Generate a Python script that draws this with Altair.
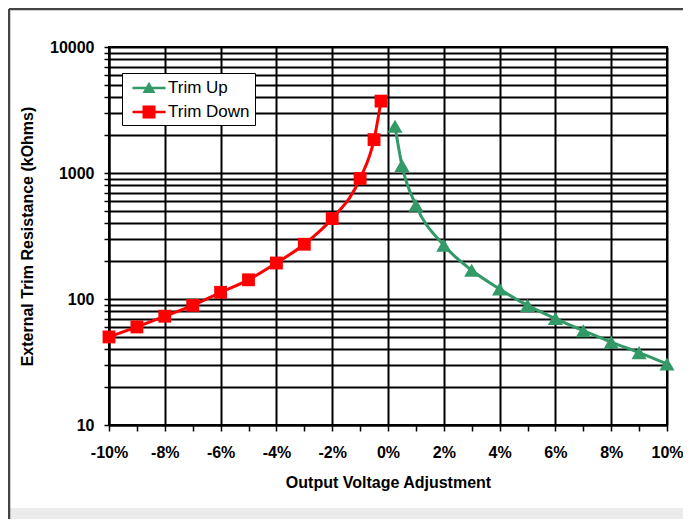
import altair as alt
import pandas as pd

# ---- data ----
series = ["Trim Up", "Trim Down"]
colors = ["#339966", "#ff0000"]

down_x = [-10, -9, -8, -7, -6, -5, -4, -3, -2, -1, -0.5, -0.25]
down_y = [50, 60, 73, 89, 113, 142, 193, 272, 435, 905, 1840, 3720]

up_x = [0.25, 0.5, 1, 2, 3, 4, 5, 6, 7, 8, 9, 10]
up_y = [2350, 1150, 555, 267, 169, 120, 89, 70, 56, 45.5, 37.5, 30.5]

x_ticks = list(range(-10, 11))
y_ticks = [m * 10 ** e for e in (1, 2, 3) for m in range(1, 10)] + [10000]

# legend symbols: line + marker
leg_paths = [
    "M-1.65,-0.13H1.65V0.13H-1.65Z M0,-0.62L0.65,0.5L-0.65,0.5Z",
    "M-1.65,-0.13H1.65V0.13H-1.65Z M-0.65,-0.65H0.65V0.65H-0.65Z",
]

rows = [{"x": a, "y": b, "series": "Trim Up"} for a, b in zip(up_x, up_y)]
rows += [{"x": a, "y": b, "series": "Trim Down"} for a, b in zip(down_x, down_y)]
df = pd.DataFrame(rows)

FONT = "Liberation Sans"
W, H = 558, 378
PL, PT, PR, PB = 101, 39, 16, 94

xscale = alt.Scale(domain=[-10, 10], nice=False)
yscale = alt.Scale(type="log", domain=[10, 10000], nice=False)

x_axis = alt.Axis(
    values=x_ticks,
    labelExpr="datum.value % 2 == 0 ? datum.value + '%' : ''",
    gridOpacity={"condition": {"test": "datum.value % 2 == 0", "value": 1}, "value": 0},
    grid=True, gridColor="black", gridWidth=2,
    domainColor="black", domainWidth=2,
    tickColor="black", tickSize=6, tickWidth=1.5,
    labelFont=FONT, labelFontSize=16, labelFontWeight="bold", labelColor="black",
    labelPadding=13, labelFlush=False, labelOverlap=False,
    title="Output Voltage Adjustment",
    titleFont=FONT, titleFontSize=16, titleFontWeight="bold", titleColor="black",
    titlePadding=14,
)
y_axis = alt.Axis(
    values=y_ticks,
    labelExpr="indexof([10, 100, 1000, 10000], datum.value) >= 0 ? datum.value + '' : ''",
    grid=True, gridColor="black", gridWidth=2,
    domainColor="black", domainWidth=2,
    tickColor="black", tickSize=5, tickWidth=1.5,
    labelFont=FONT, labelFontSize=16, labelFontWeight="bold", labelColor="black",
    labelPadding=10, labelFlush=False, labelOverlap=False,
    title="External Trim Resistance (kOhms)",
    titleFont=FONT, titleFontSize=16, titleFontWeight="bold", titleColor="black",
    titlePadding=14,
)

legend = alt.Legend(
    title=None, orient="none", legendX=13, legendY=26,
    fillColor="white", strokeColor="black", padding=5,
    symbolSize=400, symbolStrokeWidth=0, symbolOffset=12, symbolOpacity=1,
    labelOffset=9, labelFont=FONT, labelFontSize=17, labelColor="black",
    labelExpr="datum.label + ' '",
    rowPadding=6,
)

base = alt.Chart(df)
X = alt.X("x:Q", scale=xscale, axis=x_axis)
Y = alt.Y("y:Q", scale=yscale, axis=y_axis)

# decoration: outer frame and grey band at the bottom
deco = alt.Data(values=[{"d": 1}])
band = alt.Chart(deco).mark_rect(color="#ebebeb").encode(
    x=alt.value(-PL + 2), x2=alt.value(W + PR), y=alt.value(461), y2=alt.value(H + PB)
)
frame_left = alt.Chart(deco).mark_rule(color="#444444", strokeWidth=2.5).encode(
    x=alt.value(-PL + 1), y=alt.value(-PT + 1), y2=alt.value(H + PB)
)
frame_top = alt.Chart(deco).mark_rule(color="#444444", strokeWidth=2.5).encode(
    x=alt.value(-PL + 1), x2=alt.value(W + PR), y=alt.value(-PT + 1)
)

up = base.transform_filter(alt.datum.series == "Trim Up")
down = base.transform_filter(alt.datum.series == "Trim Down")

line_up = up.mark_line(interpolate="monotone", strokeWidth=3, color=colors[0]).encode(x=X, y=Y, order="x:Q")
line_down = down.mark_line(interpolate="monotone", strokeWidth=3, color=colors[1]).encode(x=X, y=Y, order="x:Q")
pts_up = up.mark_point(shape="triangle-up", filled=True, size=230, opacity=1, color=colors[0]).encode(x=X, y=Y)
pts_down = down.mark_point(shape="square", filled=True, size=165, opacity=1, color=colors[1]).encode(x=X, y=Y)

legend_carrier = base.mark_point(filled=True, opacity=0).encode(
    x=X, y=Y,
    color=alt.Color("series:N", scale=alt.Scale(domain=series, range=colors), legend=legend),
    shape=alt.Shape("series:N", scale=alt.Scale(domain=series, range=leg_paths), legend=legend),
)

chart = alt.layer(band, frame_left, frame_top, line_up, line_down, pts_up, pts_down, legend_carrier).properties(
    width=W, height=H,
    autosize=alt.AutoSizeParams(type="none"),
    padding={"left": PL, "top": PT, "right": PR, "bottom": PB},
    background="white",
).configure_view(stroke="black", strokeWidth=2)

chart.save("out.html", embed_options={"renderer": "svg", "actions": False})
